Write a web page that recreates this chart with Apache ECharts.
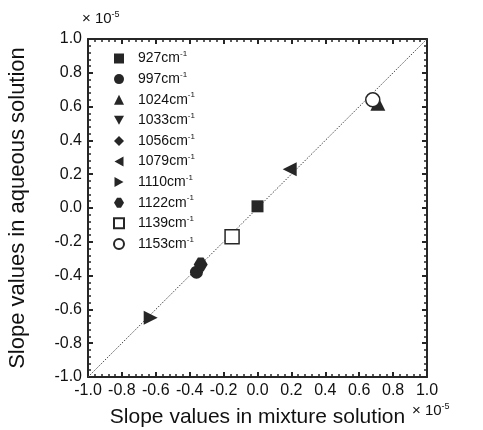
<!DOCTYPE html>
<html>
<head>
<meta charset="utf-8">
<script src="https://cdn.jsdelivr.net/npm/echarts@6/dist/echarts.min.js"></script>
<style>
  html, body { margin: 0; padding: 0; background: #fff; }
  #chart { width: 483px; height: 430px; }
</style>
</head>
<body>
<div id="chart"></div>
<script>
// Wavenumber bands (cm^-1) shown in the legend
const bands = ['927', '997', '1024', '1033', '1056', '1079', '1110', '1122', '1139', '1153'];
// Slope values (×10^-5): mixture solution (x) vs aqueous solution (y)
const slopeMixture = [0.00, -0.36, 0.71, 0.68, -0.34, 0.19, -0.63, -0.335, -0.15, 0.68];
const slopeAqueous = [0.01, -0.38, 0.62, 0.64, -0.34, 0.23, -0.65, -0.335, -0.17, 0.64];
// Marker shapes per band
const shapes = [
  'rect', 'circle', 'triangle', 'path://M0,0 L10,0 L5,9 Z', 'diamond',
  'path://M10,0 L10,10 L1,5 Z', 'path://M0,0 L9,5 L0,10 Z',
  'path://M3,0 L7,0 L10,5 L7,10 L3,10 L0,5 Z', 'rect', 'circle'
];
const sizes = [12, 13, 15, 10, 10, 14, 14, 14, 14, 14];
const hollow = [false, false, false, false, false, false, false, false, true, true];
const tickLabels = ['-1.0', '-0.8', '-0.6', '-0.4', '-0.2', '0.0', '0.2', '0.4', '0.6', '0.8', '1.0'];

const ink = '#262626';
const font = 'Liberation Sans, Arial, sans-serif';

function axis(pos, showLabels) {
  return {
    type: 'value', position: pos, min: -1, max: 1, interval: 0.2,
    axisLine: { show: true, onZero: false, lineStyle: { color: ink, width: 2 } },
    axisTick: { show: true, inside: true, length: 5, lineStyle: { color: ink, width: 2 } },
    minorTick: { show: true, splitNumber: 5, length: 3, lineStyle: { color: ink, width: 1.5 } },
    splitLine: { show: false },
    axisLabel: {
      show: showLabels, color: '#111', fontSize: 16, fontFamily: font, margin: 6,
      formatter: v => tickLabels[Math.round((v + 1) / 0.2)]
    }
  };
}

const xMain = axis('bottom', true);
xMain.name = 'Slope values in mixture solution';
xMain.nameLocation = 'middle';
xMain.nameGap = 30;
xMain.nameTextStyle = { fontSize: 21, color: '#111', fontFamily: font };
const yMain = axis('left', true);
yMain.name = 'Slope values in aqueous solution';
yMain.nameLocation = 'middle';
yMain.nameGap = 59;
yMain.nameTextStyle = { fontSize: 22, color: '#111', fontFamily: font };

const series = [{
  name: 'diag', type: 'line', data: [[-1, -1], [1, 1]], symbol: 'none', silent: true,
  lineStyle: { color: '#444', width: 1, type: [1.5, 1.5] }, z: 1
}];
bands.forEach((b, i) => {
  series.push({
    name: b, type: 'scatter', symbol: shapes[i], symbolSize: sizes[i],
    data: [[slopeMixture[i], slopeAqueous[i]]],
    itemStyle: hollow[i]
      ? { color: '#fff', borderColor: ink, borderWidth: 1.5, opacity: 1 }
      : { color: ink, opacity: 1 },
    z: 2 + i
  });
});

const chart = echarts.init(document.getElementById('chart'));
chart.setOption({
  animation: false,
  backgroundColor: '#fff',
  grid: { left: 88, right: 56, top: 39, bottom: 53, containLabel: false, outerBoundsMode: 'none' },
  xAxis: [xMain, axis('top', false)],
  yAxis: [yMain, axis('right', false)],
  legend: {
    data: bands, orient: 'vertical', left: 113, top: 50, padding: 0,
    itemWidth: 10, itemHeight: 10, itemGap: 5.1,
    textStyle: {
      color: '#111', fontFamily: font, fontSize: 14,
      rich: {
        b: { fontSize: 14, fontFamily: font, color: '#111', padding: [0, 0, 0, 9] },
        s: { fontSize: 8, fontFamily: font, color: '#111', padding: [0, 0, 9, 0] }
      }
    },
    formatter: name => '{b|' + name + 'cm}{s|-1}'
  },
  graphic: [
    { type: 'text', left: 82, top: 10, style: {
      text: '× 10{s|-5}', fill: '#111', font: '15px ' + font,
      rich: { s: { fontSize: 9, padding: [0, 0, 9, 0] } } } },
    { type: 'text', left: 412, top: 402, style: {
      text: '× 10{s|-5}', fill: '#111', font: '15px ' + font,
      rich: { s: { fontSize: 9, padding: [0, 0, 9, 0] } } } }
  ],
  series: series
});
</script>
</body>
</html>
